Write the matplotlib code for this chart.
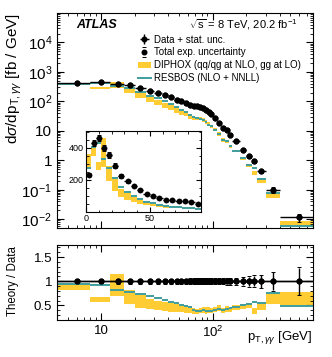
import numpy as np
import matplotlib
matplotlib.use("Agg")
import matplotlib.pyplot as plt
from matplotlib.patches import Patch
from matplotlib.lines import Line2D
from matplotlib.ticker import FixedLocator, FixedFormatter, LogLocator, MultipleLocator, NullFormatter

plt.rcParams['font.family'] = ['Liberation Sans', 'DejaVu Sans']
plt.rcParams['mathtext.fontset'] = 'custom'
plt.rcParams['mathtext.rm'] = 'Liberation Sans'
plt.rcParams['mathtext.it'] = 'Liberation Sans:italic'
plt.rcParams['mathtext.bf'] = 'Liberation Sans:bold'

# bin edges of p_T,gg [GeV]
bin_edges = [0, 4, 8, 12, 16, 20, 25, 30, 35, 40, 45, 50, 55, 60, 65, 70, 75, 80,
             85, 90, 95, 100, 110, 120, 130, 140, 150, 175, 200, 225, 250, 300, 400, 800]

# measured cross section [fb/GeV]
data_xs = [232, 430, 462, 400, 353, 288, 222, 190, 160, 137, 113, 99, 88, 76, 72, 68, 66,
           58, 50, 42, 36, 27, 18, 12.5, 10.5, 7.0, 4.6, 2.3, 1.35, 0.95, 0.42, 0.10, 0.0115]
# relative uncertainties
stat_rel = [0.02, 0.01, 0.01, 0.01, 0.01, 0.01, 0.012, 0.013, 0.015, 0.016, 0.018, 0.02, 0.02,
            0.022, 0.024, 0.025, 0.027, 0.03, 0.032, 0.035, 0.037, 0.03, 0.035, 0.04, 0.045,
            0.05, 0.05, 0.08, 0.09, 0.1, 0.13, 0.19, 0.28]
total_rel = [0.05, 0.04, 0.045, 0.05, 0.05, 0.05, 0.05, 0.05, 0.05, 0.05, 0.05, 0.055, 0.055,
             0.06, 0.06, 0.06, 0.065, 0.065, 0.065, 0.065, 0.065, 0.06, 0.06, 0.065, 0.07,
             0.07, 0.07, 0.09, 0.11, 0.12, 0.14, 0.2, 0.29]

# theory / data
diphox_lo = [1.18, 0.81, 0.57, 0.70, 0.54, 0.45, 0.42, 0.40, 0.38, 0.37, 0.36, 0.36, 0.35,
             0.34, 0.33, 0.33, 0.34, 0.35, 0.33, 0.34, 0.35, 0.36, 0.38, 0.34, 0.36, 0.37,
             0.40, 0.43, 0.45, 0.33, 0.40, 0.53, 0.50]
diphox_hi = [1.55, 0.95, 0.68, 1.16, 0.81, 0.71, 0.64, 0.60, 0.57, 0.55, 0.53, 0.51, 0.50,
             0.47, 0.44, 0.43, 0.45, 0.46, 0.47, 0.46, 0.44, 0.46, 0.50, 0.45, 0.48, 0.47,
             0.50, 0.53, 0.55, 0.45, 0.55, 0.76, 0.77]
resbos = [1.18, 0.94, 0.93, 0.83, 0.78, 0.74, 0.70, 0.66, 0.62, 0.58, 0.55, 0.52, 0.49,
          0.46, 0.40, 0.39, 0.39, 0.40, 0.39, 0.39, 0.39, 0.40, 0.43, 0.40, 0.42, 0.44,
          0.46, 0.50, 0.53, 0.58, 0.56, 0.76, 0.49]

yellow = '#ffcc33'
teal = '#3f9d9d'

edges = np.array(bin_edges, dtype=float)
lo, hi = edges[:-1], edges[1:]
ctr = (lo + hi) / 2
wid = hi - lo
xs = np.array(data_xs)
stat = np.array(stat_rel)
tot = np.array(total_rel)
dlo, dhi, rb = np.array(diphox_lo), np.array(diphox_hi), np.array(resbos)


def draw(ax, sl, scale, ms=3.3):
    s = scale[sl]
    ax.bar(lo[sl], (dhi[sl] - dlo[sl]) * s, wid[sl], bottom=dlo[sl] * s,
           align='edge', color=yellow, lw=0, zorder=1)
    ax.hlines(rb[sl] * s, lo[sl], hi[sl], color=teal, lw=1.4, zorder=2)
    d = ax.errorbar(ctr[sl], s, xerr=wid[sl] / 2, yerr=stat[sl] * s, fmt='o', color='k',
                    ms=ms, lw=1.0, capsize=0, zorder=4)
    t = ax.errorbar(ctr[sl], s, yerr=tot[sl] * s, fmt='o', color='k', ms=ms,
                    elinewidth=0, capsize=1.6, capthick=0.7, zorder=3)
    return d, t


def style(ax, size):
    ax.tick_params(which='both', direction='in', top=True, right=True, labelsize=size)
    ax.tick_params(which='major', length=5)
    ax.tick_params(which='minor', length=2.5)


fig = plt.figure(figsize=(3.32, 3.57), dpi=100)
ax = fig.add_axes([0.1717, 0.3613, 0.7711, 0.6022])
axr = fig.add_axes([0.1717, 0.1036, 0.7711, 0.2101])
axi = fig.add_axes([0.259, 0.407, 0.3464, 0.226])

main = slice(1, None)
hd, ht = draw(ax, main, xs)
ax.set_xscale('log')
ax.set_yscale('log')
ax.set_xlim(4, 800)
ax.set_ylim(5e-3, 1e5)
ax.yaxis.set_major_locator(FixedLocator([1e-2, 1e-1, 1, 10, 1e2, 1e3, 1e4]))
ax.yaxis.set_major_formatter(FixedFormatter(['10$^{-2}$', '10$^{-1}$', '1', '10',
                                             '10$^{2}$', '10$^{3}$', '10$^{4}$']))
ax.yaxis.set_minor_locator(LogLocator(base=10, subs=np.arange(2, 10), numticks=20))
ax.yaxis.set_minor_formatter(NullFormatter())
ax.xaxis.set_major_locator(FixedLocator([10, 100]))
ax.xaxis.set_minor_locator(LogLocator(base=10, subs=np.arange(2, 10), numticks=20))
ax.xaxis.set_major_formatter(NullFormatter())
ax.xaxis.set_minor_formatter(NullFormatter())
style(ax, 11)
ax.set_ylabel(r'd$\sigma$/dp$_{\mathrm{T},\gamma\gamma}$ [fb / GeV]', fontsize=11,
              loc='top')
ax.yaxis.set_label_coords(-0.13, 1.0)

ax.text(0.074, 0.944, 'ATLAS', transform=ax.transAxes, fontsize=9,
        fontweight='bold', fontstyle='italic', va='center')
ax.text(0.941, 0.944, r'$\sqrt{\mathrm{s}}$ = 8 TeV, 20.2 fb$^{-1}$', transform=ax.transAxes,
        fontsize=8, ha='right', va='center')

handles = [hd, ht, Patch(facecolor=yellow, lw=0), Line2D([], [], color=teal, lw=1.4)]
labels = ['Data + stat. unc.', 'Total exp. uncertainty',
          'DIPHOX (qq/qg at NLO, gg at LO)', 'RESBOS (NLO + NNLL)']
ax.legend(handles, labels, loc='upper left', bbox_to_anchor=(0.315, 0.90), frameon=False,
          fontsize=7, handlelength=1.4, handletextpad=0.25, labelspacing=0.3,
          borderaxespad=0, borderpad=0)

# inset, linear scale
ins = slice(0, 19)
draw(axi, ins, xs, ms=3.0)
axi.set_xlim(0, 90)
axi.set_ylim(0, 505)
axi.xaxis.set_major_locator(FixedLocator([0, 50]))
axi.xaxis.set_minor_locator(MultipleLocator(10))
axi.yaxis.set_major_locator(FixedLocator([200, 400]))
axi.yaxis.set_minor_locator(MultipleLocator(50))
style(axi, 6.5)
axi.tick_params(which='major', length=3.5, pad=1.5)
axi.tick_params(which='minor', length=1.8)

# ratio panel
ones = np.ones_like(xs)
draw(axr, main, ones)
axr.axhline(1, color='k', lw=1.0, zorder=2)
axr.set_xscale('log')
axr.set_xlim(4, 800)
axr.set_ylim(0.2, 1.75)
axr.xaxis.set_major_locator(FixedLocator([10, 100]))
axr.xaxis.set_major_formatter(FixedFormatter(['10', '10$^{2}$']))
axr.xaxis.set_minor_locator(LogLocator(base=10, subs=np.arange(2, 10), numticks=20))
axr.xaxis.set_minor_formatter(NullFormatter())
axr.yaxis.set_major_locator(FixedLocator([0.5, 1, 1.5]))
axr.yaxis.set_major_formatter(FixedFormatter(['0.5', '1', '1.5']))
axr.yaxis.set_minor_locator(MultipleLocator(0.1))
style(axr, 9.5)
axr.set_xlabel(r'p$_{\mathrm{T},\gamma\gamma}$ [GeV]', fontsize=9.5, loc='right')
axr.xaxis.set_label_coords(1.0, -0.12)
axr.set_ylabel('Theory / Data', fontsize=8.3, loc='top')
axr.yaxis.set_label_coords(-0.15, 0.98)

fig.savefig('out.png', dpi=100)
